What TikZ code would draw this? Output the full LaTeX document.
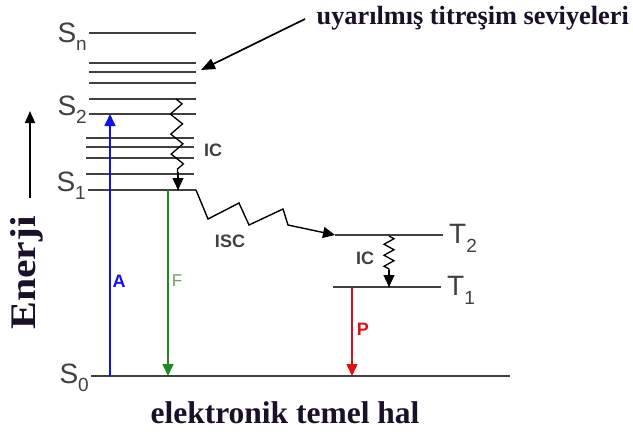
\documentclass[tikz,border=0pt]{standalone}
\usepackage{fontspec}
\setmainfont{Liberation Serif}
\newfontfamily\lsans{Liberation Sans}
\usetikzlibrary{arrows.meta,decorations.pathmorphing}
\definecolor{lvl}{HTML}{404040}
\definecolor{ablue}{HTML}{1010F0}
\definecolor{fgreen}{HTML}{1E8A1E}
\definecolor{flabel}{HTML}{6FA060}
\definecolor{pred}{HTML}{DD1111}
\definecolor{txt}{HTML}{1A1028}
\tikzset{
  level/.style={draw=lvl, line width=1.8pt},
  statelbl/.style={font=\lsans\fontsize{28}{30}\selectfont, text=lvl, inner sep=0pt},
  proclbl/.style={font=\lsans\bfseries\fontsize{18}{20}\selectfont, inner sep=0pt},
  tip/.style={-{Triangle[length=12pt,width=11pt]}},
  bigtxt/.style={font=\bfseries, text=txt, inner sep=0pt}
}
\begin{document}
\begin{tikzpicture}[x=1pt,y=-1pt]
\useasboundingbox[fill=white] (0,0) rectangle (633,434);
% vibrational/electronic levels
\coordinate (snL) at (89,33);  \coordinate (snR) at (196,33);
\foreach \yy in {63,72,83,99} {\draw[level] (89,\yy) -- (196,\yy);}
\coordinate (s2L) at (89,114); \coordinate (s2R) at (196,114);
\foreach \yy in {138,147,158,174} {\draw[level] (86,\yy) -- (194,\yy);}
\coordinate (s1L) at (88,190); \coordinate (s1R) at (196,190);
\coordinate (s0L) at (91,376); \coordinate (s0R) at (510,376);
\coordinate (t2L) at (335,235); \coordinate (t2R) at (443,235);
\coordinate (t1L) at (333,287); \coordinate (t1R) at (441,287);
\draw[level] (snL) -- (snR);
\draw[level] (s2L) -- (s2R);
\draw[level] (s1L) -- (s1R);
\draw[level] (s0L) -- (s0R);
\draw[level] (t2L) -- (t2R);
\draw[level] (t1L) -- (t1R);
% state labels
\node[statelbl, anchor=east] (lsn) at (87,37) {S\raisebox{-8pt}{\fontsize{19}{20}\selectfont n}};
\node[statelbl, anchor=east] (ls2) at (87,110) {S\raisebox{-8pt}{\fontsize{19}{20}\selectfont 2}};
\node[statelbl, anchor=east] (ls1) at (86,186) {S\raisebox{-8pt}{\fontsize{19}{20}\selectfont 1}};
\node[statelbl, anchor=east] (ls0) at (89,378) {S\raisebox{-8pt}{\fontsize{19}{20}\selectfont 0}};
\node[statelbl, anchor=west] (lt2) at (449,238) {T\raisebox{-9pt}{\fontsize{19}{20}\selectfont 2}};
\node[statelbl, anchor=west] (lt1) at (447,290) {T\raisebox{-9pt}{\fontsize{19}{20}\selectfont 1}};
% absorption
\coordinate (aB) at (110,376); \coordinate (aT) at (110,114);
\draw[ablue, line width=1.6pt, tip] (aB) -- (aT);
\node[proclbl, text=ablue] (la) at (119,281) {A};
% fluorescence
\coordinate (fT) at (168,190); \coordinate (fB) at (168,376);
\draw[fgreen, line width=1.6pt, tip] (fT) -- (fB);
\node[font=\lsans\fontsize{17}{19}\selectfont, text=flabel, inner sep=0pt] (lf) at (177,281) {F};
% phosphorescence
\coordinate (pT) at (352,287); \coordinate (pB) at (352,376);
\draw[pred, line width=1.6pt, tip] (pT) -- (pB);
\node[proclbl, text=pred] (lp) at (363,329) {P};
% IC in singlet manifold
\coordinate (icT) at (176,99); \coordinate (icB) at (178,190);
\draw[black, line width=1.3pt, decorate, decoration={zigzag, segment length=20pt, amplitude=6pt, post length=16pt}] (icT) -- (icB);
\draw[black, line width=1.3pt, tip] (178,172) -- (icB);
\node[proclbl, text=lvl] (lic1) at (213,150) {IC};
% ISC
\draw[black, line width=1.4pt, tip] (s1R) -- (208,219) -- (239,203) -- (249,225) -- (283,209) -- (288,225) -- (t2L);
\node[proclbl, text=lvl] (lisc) at (230,241) {ISC};
% IC in triplet manifold
\coordinate (ic2T) at (389,236); \coordinate (ic2B) at (389,287);
\draw[black, line width=1.3pt, decorate, decoration={zigzag, segment length=11pt, amplitude=5pt, post length=14pt}] (ic2T) -- (ic2B);
\draw[black, line width=1.3pt, tip] (389,270) -- (ic2B);
\node[proclbl, text=lvl] (lic2) at (365,258) {IC};
% energy axis
\coordinate (eB) at (30,198); \coordinate (eT) at (30,111);
\draw[black, line width=1.6pt, -{Triangle[length=12pt,width=10pt]}] (eB) -- (eT);
\node[bigtxt, rotate=90, font=\bfseries\fontsize{36}{38}\selectfont] (en) at (27,273) {\scalebox{1.16}[1]{Enerji}};
% annotations
\node[bigtxt, anchor=east, font=\bfseries\fontsize{26.3}{28}\selectfont] (vib) at (629,18) {uyarılmış titreşim seviyeleri};
\coordinate (vibT) at (201,70);
\draw[black, line width=1.7pt, -{Triangle[length=14pt,width=11pt]}] (305,19) -- (vibT);
\node[bigtxt, font=\bfseries\fontsize{31.5}{34}\selectfont] (ground) at (285,413) {elektronik temel hal};
\end{tikzpicture}
\end{document}
